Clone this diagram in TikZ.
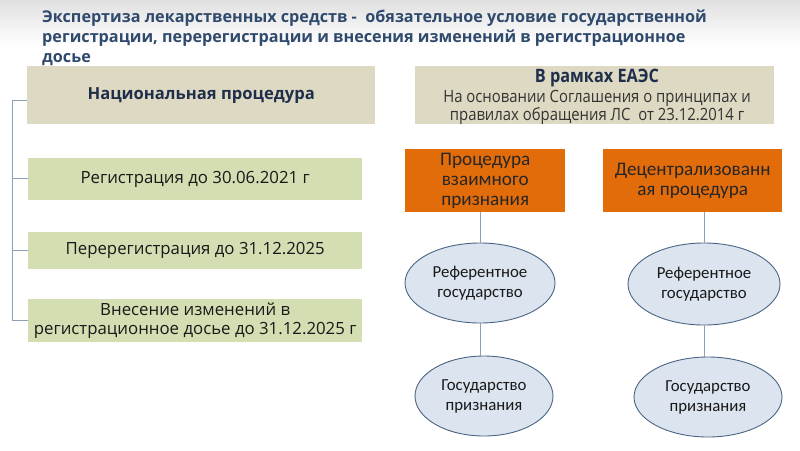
\documentclass[tikz,border=0pt]{standalone}
\usepackage{fontspec}
\setmainfont{Open Sans}
\newfontfamily\condfont[FakeStretch=0.88]{Open Sans}
\newfontfamily\calfont{Carlito}
\usetikzlibrary{shapes.geometric}
\definecolor{titlec}{HTML}{2F4A6D}
\definecolor{tanc}{HTML}{DDD9C3}
\definecolor{greenc}{HTML}{D3DEB2}
\definecolor{orangec}{HTML}{E36C0A}
\definecolor{ellc}{HTML}{DCE4EF}
\definecolor{elldraw}{HTML}{4A6584}
\definecolor{linec}{HTML}{8EA0B8}
\definecolor{navy}{HTML}{1F2E4A}
\tikzset{
  tanbox/.style={fill=tanc, draw=none, anchor=north west, inner sep=0pt},
  greenbox/.style={fill=greenc, draw=none, anchor=north west, inner sep=0pt, align=center, font=\fontsize{16.8}{19.5}\selectfont, text=black!90},
  orangebox/.style={fill=orangec, draw=none, anchor=north west, inner sep=0pt, align=center, font=\calfont\fontsize{19.2}{20}\selectfont, text=black!85},
  ellbox/.style={ellipse, fill=ellc, draw=elldraw, line width=0.9pt, align=center, font=\calfont\fontsize{16.8}{20}\selectfont, text=black!90, inner sep=0pt},
  conn/.style={draw=linec, line width=0.6pt},
}
\begin{document}
\begin{tikzpicture}[x=1pt,y=-1pt]
\useasboundingbox (0,0) rectangle (800,450);
\fill[white] (0,0) rectangle (800,450);
\shade[top color=black!12, bottom color=white] (0,0) rectangle (800,46);
% title
\node[anchor=north west, inner sep=0pt, align=left, text=titlec, font=\bfseries\fontsize{16.2}{20}\selectfont] (title) at (42,10)
 {Экспертиза лекарственных средств -\ \ обязательное условие государственной\\регистрации, перерегистрации и внесения изменений в регистрационное\\досье};
% top boxes
\node[tanbox, minimum width=348, minimum height=58] (nat) at (27,66) {};
\node[font=\bfseries\fontsize{16.6}{18}\selectfont, text=navy] (natt) at (nat.center) {Национальная процедура};
\node[tanbox, minimum width=359, minimum height=58] (eaes) at (415,66) {};
\node[font=\condfont\bfseries\fontsize{18.5}{18}\selectfont, text=navy, anchor=center] (eaest) at (597,78) {В рамках ЕАЭС};
\node[font=\condfont\fontsize{16.9}{18}\selectfont, text=black!80, align=center, anchor=north] (eaesb) at (597,87) {На основании Соглашения о принципах и\\правилах обращения ЛС\ \ от 23.12.2014 г};
% green boxes
\node[greenbox, minimum width=334, minimum height=42] (g1) at (28,158) {Регистрация до 30.06.2021 г};
\node[greenbox, minimum width=334, minimum height=37] (g2) at (28,232) {Перерегистрация до 31.12.2025};
\node[greenbox, minimum width=334, minimum height=43] (g3) at (28,299) {Внесение изменений в\\регистрационное досье до 31.12.2025 г};
% bracket
\coordinate (bt) at (12,100);
\coordinate (b1) at (12,178);
\coordinate (b2) at (12,250);
\coordinate (b3) at (12,320);
\draw[conn] (nat.west |- bt) -- (bt) -- (b3) -- (g3.west |- b3);
\draw[conn] (b1) -- (g1.west |- b1);
\draw[conn] (b2) -- (g2.west |- b2);
% orange boxes
\node[orangebox, minimum width=160, minimum height=63] (o1) at (405,149) {Процедура\\взаимного\\признания};
\node[orangebox, minimum width=179, minimum height=63] (o2) at (603,149) {Децентрализованн\\ая процедура};
% ellipses
\node[ellbox, minimum width=150, minimum height=80] (e1) at (480,283) {Референтное\\государство};
\node[ellbox, minimum width=138, minimum height=80] (e2) at (484,396) {Государство\\признания};
\node[ellbox, minimum width=152, minimum height=82] (e3) at (704,284) {Референтное\\государство};
\node[ellbox, minimum width=148, minimum height=80] (e4) at (708,397) {Государство\\признания};
\draw[conn] (o1.south -| e1.north) -- (e1.north);
\draw[conn] (e1.south) -- (e1.south |- e2.north);
\draw[conn] (o2.south -| e3.north) -- (e3.north);
\draw[conn] (e3.south) -- (e3.south |- e4.north);
\end{tikzpicture}
\end{document}
